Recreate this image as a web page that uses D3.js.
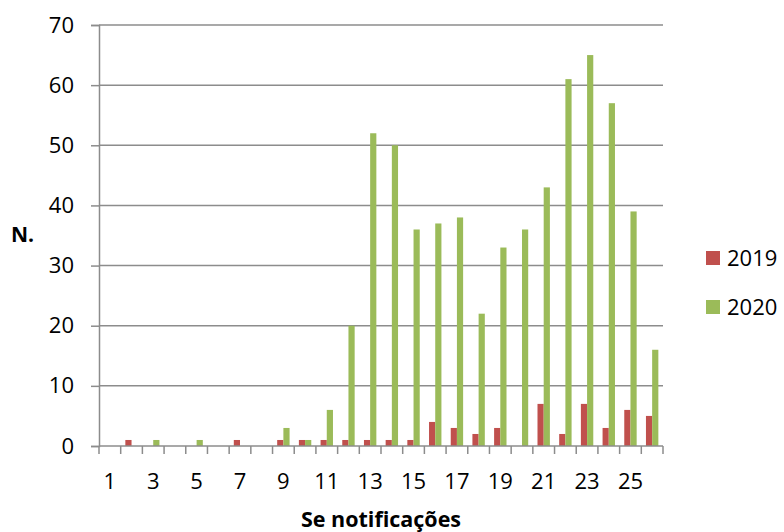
<!DOCTYPE html>
<html>
<head>
<meta charset="utf-8">
<script src="https://cdn.jsdelivr.net/npm/d3@7"></script>
<style>
  html, body { margin: 0; padding: 0; background: #fff; }
  svg { display: block; font-family: "Open Sans", "Liberation Sans", sans-serif; }
</style>
</head>
<body>
<svg id="chart" width="784" height="532"></svg>
<script>
// Weekly notification counts, epidemiological weeks 1–26
const weeks = d3.range(1, 27);
const values2019 = [0, 1, 0, 0, 0, 0, 1, 0, 1, 1, 1, 1, 1, 1, 1, 4, 3, 2, 3, 0, 7, 2, 7, 3, 6, 5];
const values2020 = [0, 0, 1, 0, 1, 0, 0, 0, 3, 1, 6, 20, 52, 50, 36, 37, 38, 22, 33, 36, 43, 61, 65, 57, 39, 16];
const seriesNames = ["2019", "2020"];
const seriesColors = ["#C0504D", "#9BBB59"];
const yTicks = [0, 10, 20, 30, 40, 50, 60, 70];
const xTickLabels = weeks.filter(w => w % 2 === 1);

const svg = d3.select("#chart");
const plot = { left: 99, right: 663, top: 25, bottom: 446 };
const gridColor = "#8c8c8c";
const labelFont = "'Open Sans', 'Liberation Sans', sans-serif";

const x = d3.scaleBand().domain(weeks).range([plot.left, plot.right]).paddingInner(0).paddingOuter(0);
const inner = d3.scaleBand().domain(seriesNames).range([0, x.bandwidth()]).paddingInner(0).paddingOuter(0.75);
const y = d3.scaleLinear().domain([0, 70]).range([plot.bottom, plot.top]);

// horizontal gridlines
svg.append("g")
  .selectAll("line")
  .data(yTicks.filter(t => t > 0))
  .join("line")
  .attr("x1", plot.left).attr("x2", plot.right)
  .attr("y1", d => y(d)).attr("y2", d => y(d))
  .attr("stroke", gridColor).attr("stroke-width", 1.5);

// bars
const series = [values2019, values2020];
series.forEach((vals, si) => {
  svg.append("g")
    .selectAll("rect")
    .data(weeks.map((w, i) => ({ w, v: vals[i] })))
    .join("rect")
    .attr("x", d => x(d.w) + inner(seriesNames[si]))
    .attr("width", inner.bandwidth())
    .attr("y", d => y(d.v))
    .attr("height", d => y(0) - y(d.v))
    .attr("fill", seriesColors[si]);
});

// y axis
const yAxis = svg.append("g")
  .attr("transform", `translate(${plot.left},0)`)
  .call(d3.axisLeft(y).tickValues(yTicks).tickSize(8).tickPadding(17).tickFormat(d3.format("d")));
yAxis.select(".domain").attr("stroke", gridColor).attr("stroke-width", 1.5);
yAxis.selectAll(".tick line").attr("stroke", gridColor).attr("stroke-width", 1.5);
yAxis.selectAll(".tick text").attr("font-size", 22).attr("fill", "#000")
  .attr("font-family", labelFont);

// x axis: ticks on category boundaries, labels on odd weeks
const xAxisG = svg.append("g").attr("transform", `translate(0,${plot.bottom})`);
xAxisG.append("line")
  .attr("x1", plot.left).attr("x2", plot.right)
  .attr("stroke", gridColor).attr("stroke-width", 1.5);
xAxisG.selectAll("line.tick")
  .data(weeks.map(w => x(w)).concat([plot.right]))
  .join("line")
  .attr("class", "tick")
  .attr("x1", d => d).attr("x2", d => d)
  .attr("y1", 0).attr("y2", 8)
  .attr("stroke", gridColor).attr("stroke-width", 1.5);
xAxisG.selectAll("text")
  .data(xTickLabels)
  .join("text")
  .attr("x", d => x(d) + x.bandwidth() / 2)
  .attr("y", 43)
  .attr("text-anchor", "middle")
  .attr("font-size", 22)
  .attr("fill", "#000")
  .text(d => d);

// axis titles
svg.append("text")
  .attr("x", (plot.left + plot.right) / 2)
  .attr("y", 527)
  .attr("text-anchor", "middle")
  .attr("font-size", 21.5)
  .attr("font-weight", "bold")
  .text("Se notificações");
svg.append("text")
  .attr("x", 11)
  .attr("y", 242)
  .attr("font-size", 21)
  .attr("font-weight", "bold")
  .text("N.");

// legend
const legend = svg.append("g");
seriesNames.forEach((name, i) => {
  const cy = 258 + i * 49;
  legend.append("rect")
    .attr("x", 706).attr("y", cy - 7)
    .attr("width", 14).attr("height", 14)
    .attr("fill", seriesColors[i]);
  legend.append("text")
    .attr("x", 727).attr("y", cy + 8)
    .attr("font-size", 22)
    .text(name);
});
</script>
</body>
</html>
